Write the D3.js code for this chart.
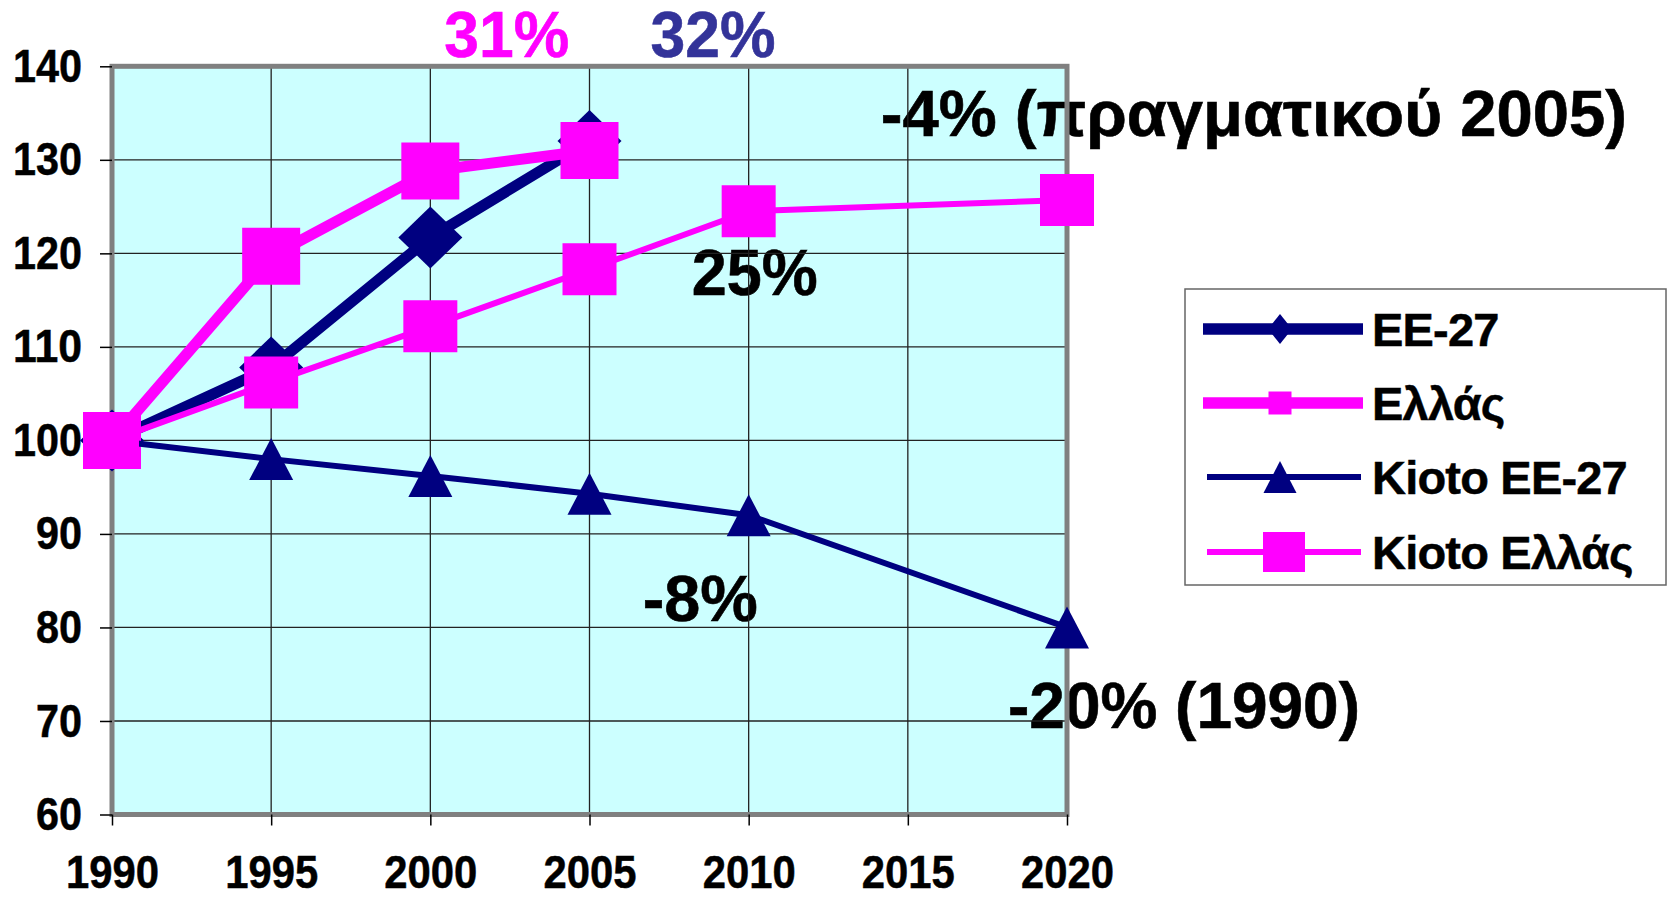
<!DOCTYPE html>
<html lang="el">
<head>
<meta charset="UTF-8">
<title>EE-27 / Ελλάς</title>
<script src="https://d3js.org/d3.v7.min.js"></script>
<style>
  body { margin: 0; background: #fff; }
  svg text { font-family: "Liberation Sans", Arial, sans-serif; font-weight: bold; }
</style>
</head>
<body>
<div id="chart"></div>
<script>
// data (index, 1990 = 100)
const years = ["1990", "1995", "2000", "2005", "2010", "2015", "2020"];
const ee27 = [100, 107.8, 121.7, 132, null, null, null];
const ellas = [100, 119.7, 128.8, 131, null, null, null];
const kiotoEE27 = [100, 98, 96.2, 94.3, 92, null, 80];
const kiotoEllas = [100, 106.2, 112.2, 118.3, 124.5, null, 125.7];
const yTicks = [60, 70, 80, 90, 100, 110, 120, 130, 140];
const seriesNames = ["EE-27", "Ελλάς", "Kioto EE-27", "Kioto Ελλάς"];
const noteTexts = ["31%", "32%", "-4% (πραγματικού 2005)", "25%", "-8%", "-20% (1990)"];

const width = 1672, height = 899;
const plot = { left: 112, right: 1067, top: 66.3, bottom: 814.5 };
const navy = "#000080", magenta = "#ff00ff";

const svg = d3.select("#chart").append("svg")
    .attr("width", width)
    .attr("height", height);

const x = d3.scalePoint().domain(years).range([plot.left, plot.right]);
const y = d3.scaleLinear().domain([60, 140]).range([plot.bottom, plot.top]);

// plot area background
svg.append("rect")
    .attr("x", plot.left).attr("y", plot.top)
    .attr("width", plot.right - plot.left)
    .attr("height", plot.bottom - plot.top)
    .attr("fill", "#ccffff");

// annotation texts (sit under the grid, like the original)
const notes = [
    { x: x("2000") + 14, y: plot.top - 9, color: magenta, len: 125 },
    { x: x("2005") + 61, y: plot.top - 9, color: "#333399", len: 125 },
    { x: x("2015") - 27, y: plot.top + 70, color: "#000", len: 746 },
    { x: x("2010") - 57, y: y(115.5), color: "#000", len: 126 },
    { x: x("2010") - 106, y: y(80.7), color: "#000", len: 115 },
    { x: x("2020") - 59, y: y(69.2), color: "#000", len: 352 }
];
svg.append("g")
    .selectAll("text")
    .data(noteTexts)
    .enter().append("text")
    .attr("x", (d, i) => notes[i].x)
    .attr("y", (d, i) => notes[i].y)
    .attr("fill", (d, i) => notes[i].color)
    .attr("stroke", (d, i) => notes[i].color)
    .attr("stroke-width", 0.6)
    .attr("font-size", 64)
    .attr("textLength", (d, i) => notes[i].len)
    .attr("lengthAdjust", "spacingAndGlyphs")
    .text(d => d);

// grid
svg.append("g")
    .selectAll("line")
    .data(yTicks)
    .enter().append("line")
    .attr("x1", plot.left).attr("x2", plot.right)
    .attr("y1", d => y(d)).attr("y2", d => y(d))
    .attr("stroke", "#222").attr("stroke-width", 1.3);
svg.append("g")
    .selectAll("line")
    .data(years)
    .enter().append("line")
    .attr("x1", d => x(d)).attr("x2", d => x(d))
    .attr("y1", plot.top).attr("y2", plot.bottom)
    .attr("stroke", "#222").attr("stroke-width", 1.3);

// plot border
svg.append("rect")
    .attr("x", plot.left).attr("y", plot.top)
    .attr("width", plot.right - plot.left)
    .attr("height", plot.bottom - plot.top)
    .attr("fill", "none")
    .attr("stroke", "#808080")
    .attr("stroke-width", 5);

// axes
const yAxis = d3.axisLeft(y).tickValues(yTicks).tickSize(12).tickPadding(18);
svg.append("g")
    .attr("transform", `translate(${plot.left},0)`)
    .call(yAxis)
    .call(g => g.select(".domain").remove())
    .call(g => g.selectAll(".tick line").attr("stroke-width", 1.5))
    .call(g => g.selectAll("text")
        .attr("font-size", 47)
        .attr("stroke", "#000")
        .attr("stroke-width", 0.5)
        .attr("textLength", d => String(d).length * 23)
        .attr("lengthAdjust", "spacingAndGlyphs")
        .attr("font-family", null));

const xAxis = d3.axisBottom(x).tickSize(11).tickPadding(30);
svg.append("g")
    .attr("transform", `translate(0,${plot.bottom})`)
    .call(xAxis)
    .call(g => g.select(".domain").remove())
    .call(g => g.selectAll(".tick line").attr("stroke-width", 1.5))
    .call(g => g.selectAll("text")
        .attr("font-size", 46)
        .attr("stroke", "#000")
        .attr("stroke-width", 0.5)
        .attr("textLength", 93)
        .attr("lengthAdjust", "spacingAndGlyphs")
        .attr("font-family", null));

// marker shapes, w/h are half sizes
function markerPath(type, w, h) {
    if (type === "diamond") return `M0,${-h}L${w},0L0,${h}L${-w},0Z`;
    if (type === "triangle") return `M0,${-h}L${w},${h}L${-w},${h}Z`;
    return `M${-w},${-h}H${w}V${h}H${-w}Z`;
}

const seriesValues = [ee27, ellas, kiotoEE27, kiotoEllas];
const seriesStyle = [
    { color: navy, width: 11, marker: "diamond", mw: 32, mh: 31, lw: 12, lh: 15 },
    { color: magenta, width: 11, marker: "square", mw: 29, mh: 28.5, lw: 11.5, lh: 11.5 },
    { color: navy, width: 6, marker: "triangle", mw: 22, mh: 21, lw: 16.5, lh: 16 },
    { color: magenta, width: 6, marker: "square", mw: 27, mh: 26, lw: 21, lh: 20 }
];

const line = d3.line()
    .x(d => x(d.year))
    .y(d => y(d.v));

seriesValues.forEach((vals, i) => {
    const st = seriesStyle[i];
    const pts = years.map((yr, j) => ({ year: yr, v: vals[j] })).filter(d => d.v != null);
    const g = svg.append("g");
    g.append("path")
        .attr("d", line(pts))
        .attr("fill", "none")
        .attr("stroke", st.color)
        .attr("stroke-width", st.width)
        .attr("stroke-linejoin", "round");
    g.selectAll("path.mk")
        .data(pts)
        .enter().append("path")
        .attr("class", "mk")
        .attr("transform", d => `translate(${x(d.year)},${y(d.v)})`)
        .attr("d", markerPath(st.marker, st.mw, st.mh))
        .attr("fill", st.color);
});

// legend
const legend = svg.append("g").attr("transform", "translate(1185,289)");
legend.append("rect")
    .attr("width", 481).attr("height", 296)
    .attr("fill", "#fff")
    .attr("stroke", "#666")
    .attr("stroke-width", 1.5);
const rowY = [40, 114, 188, 263];
seriesNames.forEach((name, i) => {
    const st = seriesStyle[i];
    const row = legend.append("g").attr("transform", `translate(0,${rowY[i]})`);
    row.append("line")
        .attr("x1", i < 2 ? 18 : 22).attr("x2", i < 2 ? 178 : 176)
        .attr("stroke", st.color)
        .attr("stroke-width", i < 2 ? 11.5 : 6);
    row.append("path")
        .attr("transform", `translate(${i === 3 ? 99 : 95},0)`)
        .attr("d", markerPath(st.marker, st.lw, st.lh))
        .attr("fill", st.color);
    row.append("text")
        .attr("x", 187)
        .attr("dy", "0.36em")
        .attr("font-size", 47)
        .attr("letter-spacing", -0.8)
        .attr("stroke", "#000")
        .attr("stroke-width", 0.5)
        .text(name);
});
</script>
</body>
</html>
